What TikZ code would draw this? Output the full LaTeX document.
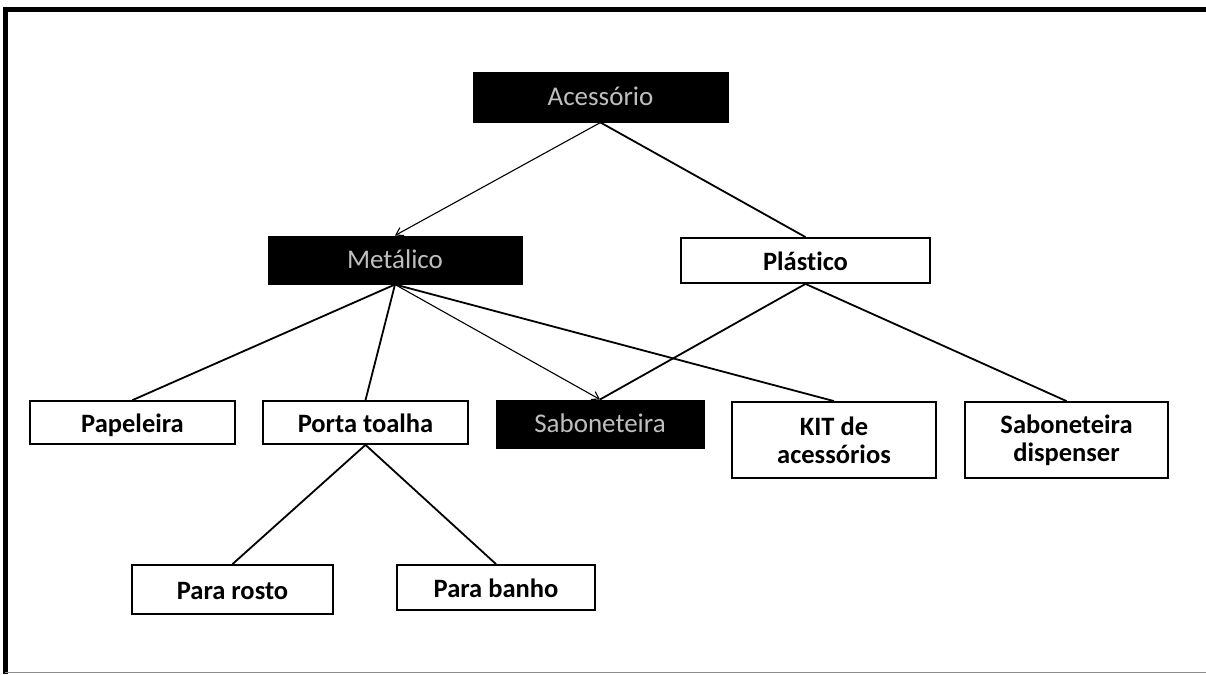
\documentclass[tikz,border=0pt]{standalone}
\usepackage{fontspec}
\setmainfont[Ligatures=NoCommon]{Carlito}
\usetikzlibrary{arrows.meta}
\begin{document}
\begin{tikzpicture}[x=1pt,y=-1pt,
  wbox/.style={draw=black,line width=1.8pt,fill=white,inner sep=0pt,align=center,font=\fontsize{26.5}{28}\selectfont\bfseries},
  one/.style={text height=19pt,text depth=0pt},
  bbox/.style={draw=black,line width=1pt,fill=black,inner sep=0pt,align=center,text=black!25,font=\fontsize{27}{29}\selectfont,text height=16pt,text depth=0pt},
  edge/.style={line width=1.8pt,black},
  aedge/.style={line width=1.1pt,black,-{Straight Barb[length=7pt,width=9pt]}}]
\useasboundingbox (0,0) rectangle (1206,674);
\fill[white] (0,0) rectangle (1206,674);
% frame
\draw[line width=5pt,black] (5.5,674) -- (5.5,9.5) -- (1206,9.5);
\draw[line width=1pt,black!45] (5,672) -- (1206,672);
% nodes
\node[bbox,minimum width=255pt,minimum height=49pt] (acc) at (600.5,97.5) {Acessório};
\node[bbox,minimum width=254pt,minimum height=48pt] (met) at (395,260) {Metálico};
\node[wbox,one,minimum width=249pt,minimum height=45pt] (pla) at (805.5,260.5) {Plástico};
\node[wbox,one,minimum width=205pt,minimum height=43pt] (pap) at (132.5,422.5) {Papeleira};
\node[wbox,one,minimum width=205pt,minimum height=43pt] (por) at (365.5,422.5) {Porta toalha};
\node[bbox,minimum width=208pt,minimum height=48pt] (sab) at (600,424) {Saboneteira};
\node[wbox,minimum width=204pt,minimum height=76pt] (kit) at (834,440) {KIT de\\acessórios};
\node[wbox,minimum width=203pt,minimum height=76pt] (dis) at (1066.5,440) {Saboneteira\\dispenser};
\node[wbox,one,minimum width=201pt,minimum height=49pt] (ros) at (232.5,589.5) {Para rosto};
\node[wbox,one,minimum width=198pt,minimum height=45pt] (ban) at (496,587.5) {Para banho};
% edges
\draw[aedge] (acc.south) -- (met.north);
\draw[edge] (acc.south) -- (pla.north);
\draw[edge] (met.south) -- (pap.north);
\draw[edge] (met.south) -- (por.north);
\draw[aedge] (met.south) -- (sab.north);
\draw[edge] (met.south) -- (kit.north);
\draw[edge] (pla.south) -- (sab.north);
\draw[edge] (pla.south) -- (dis.north);
\draw[edge] (por.south) -- (ros.north);
\draw[edge] (por.south) -- (ban.north);
\end{tikzpicture}
\end{document}
